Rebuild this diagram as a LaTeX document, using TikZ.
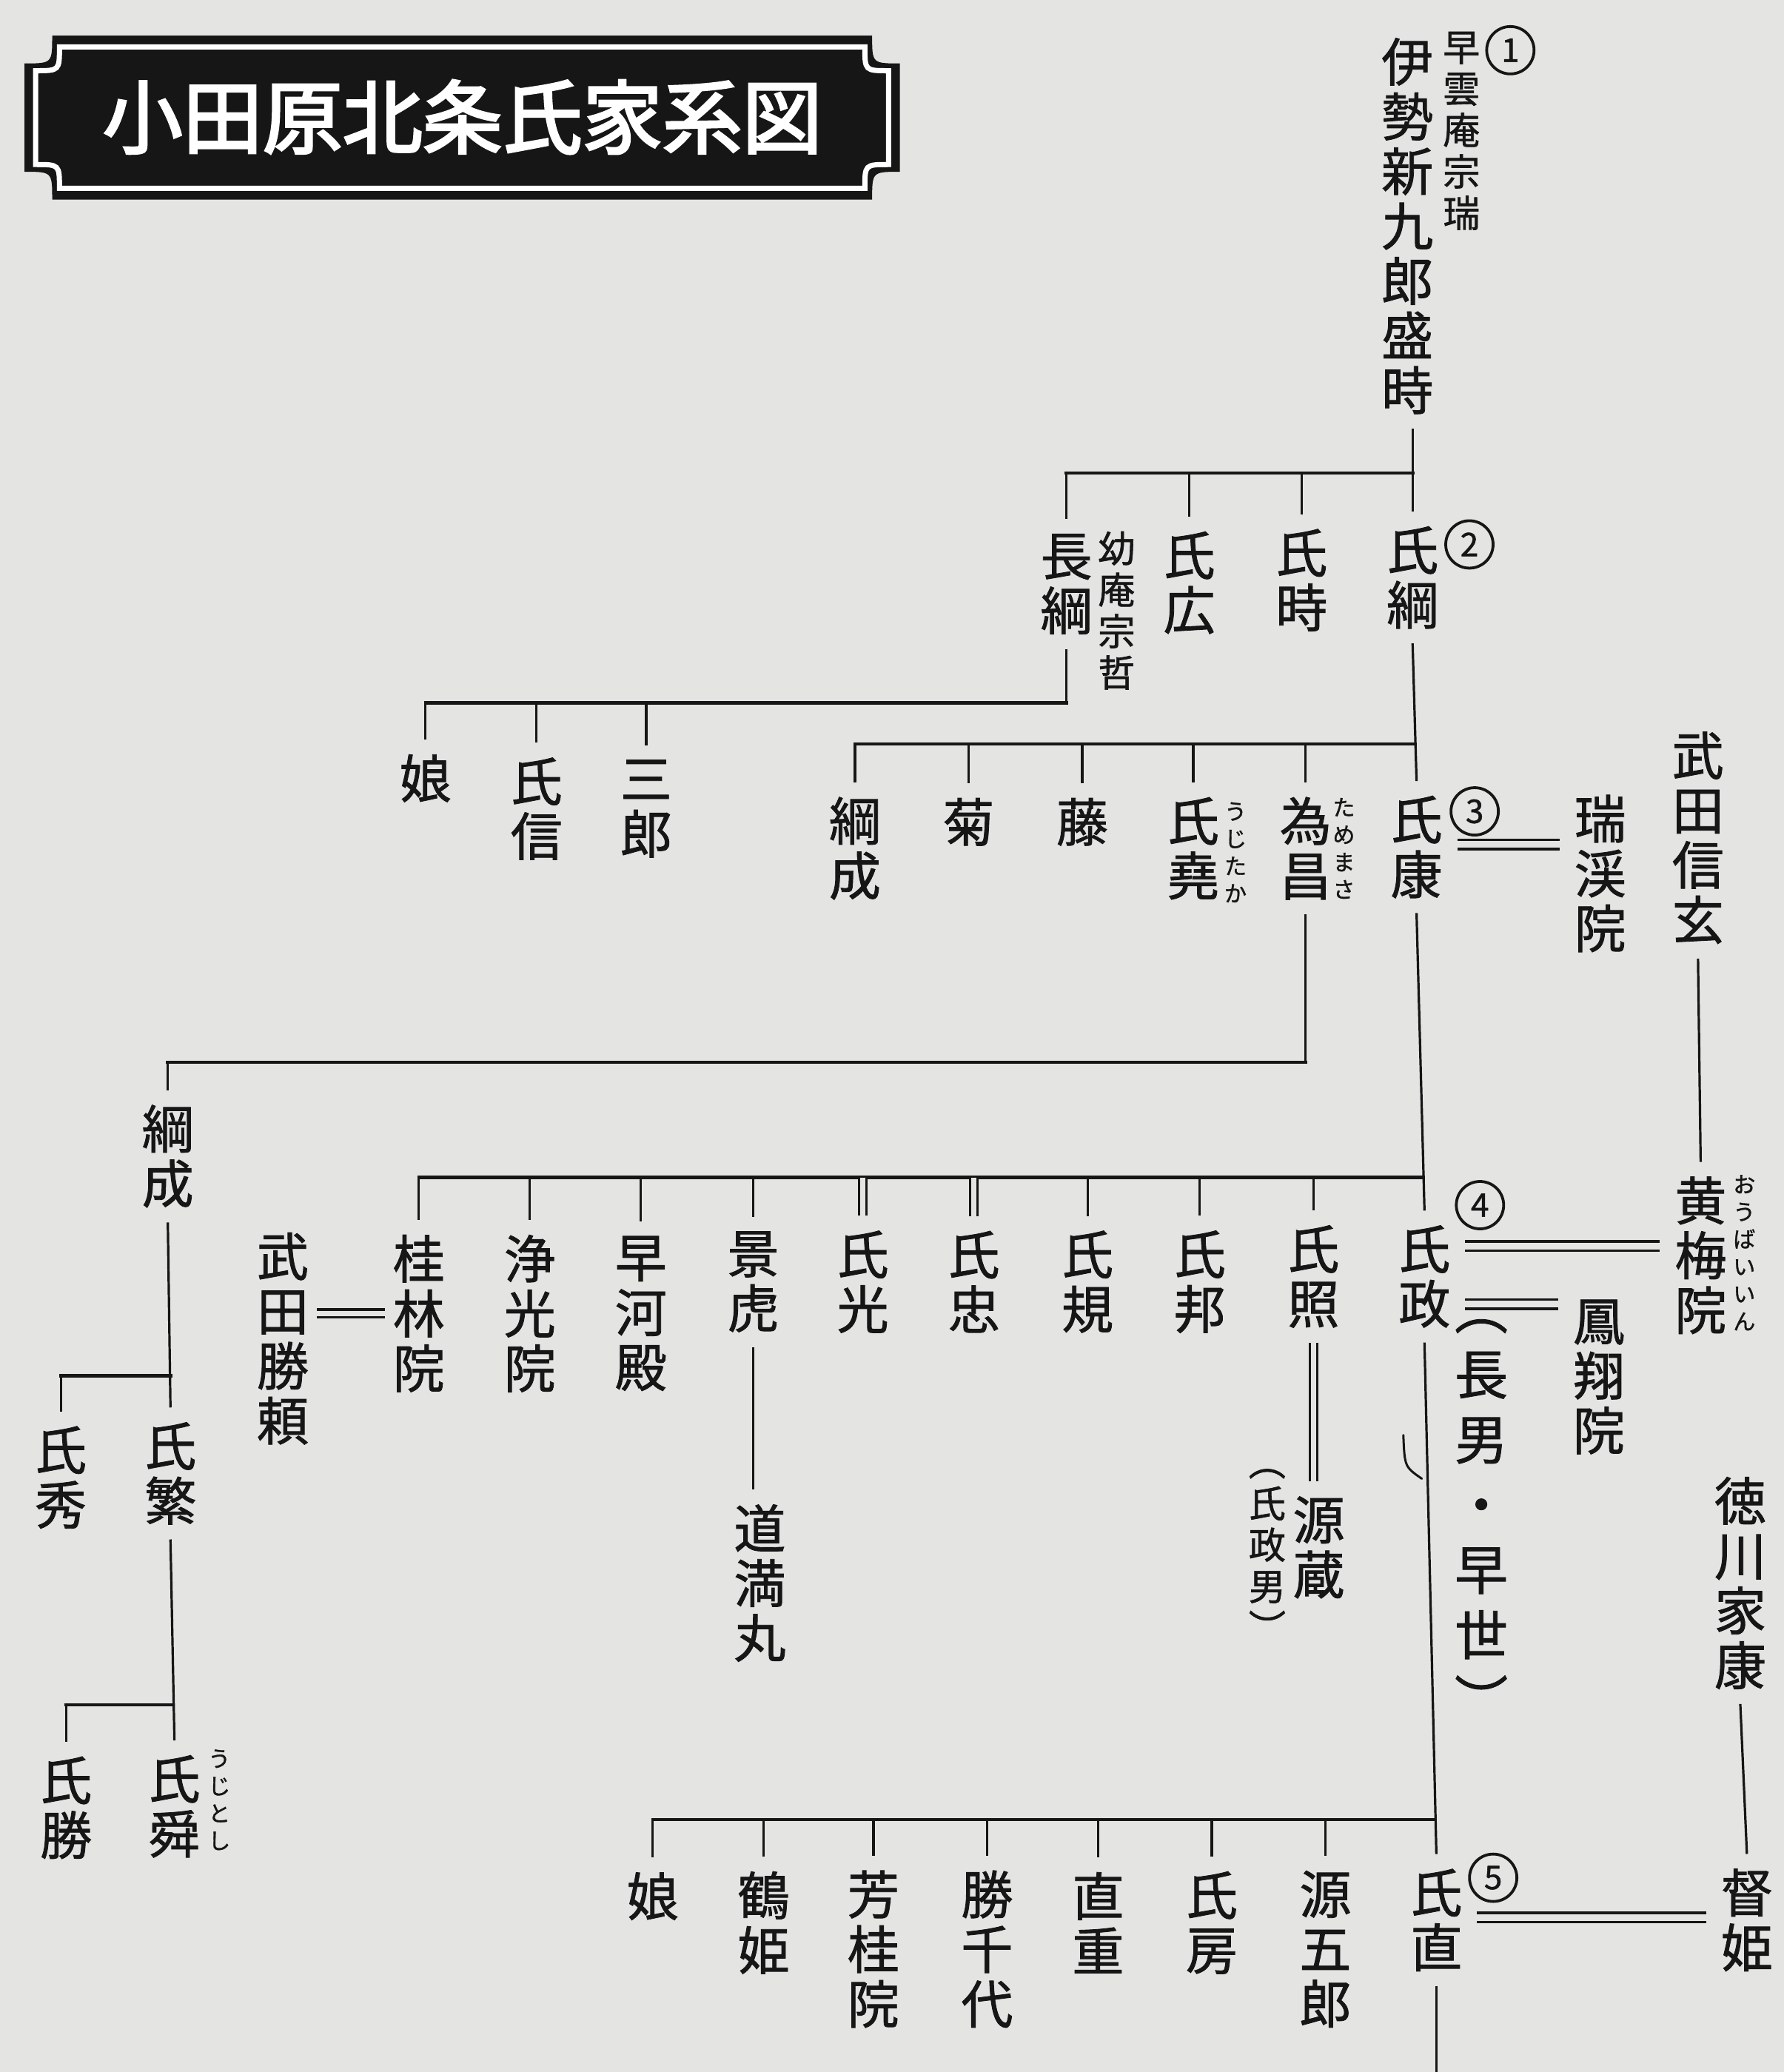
\documentclass[tikz,border=0pt]{standalone}
\usepackage{fontspec}
\newfontfamily\jp[FakeBold=1.2]{Noto Sans CJK JP}
\newfontfamily\jpb[FakeBold=3]{Noto Sans CJK JP}
\definecolor{paper}{RGB}{228,228,226}
\definecolor{ink}{RGB}{22,22,22}
\begin{document}
\begin{tikzpicture}[x=1.78519pt, y=-1.78519pt,
  nm/.style={font=\jp\fontsize{70}{74}\selectfont, align=center, inner sep=0pt, outer sep=20pt, text=ink},
  sm/.style={font=\jp\fontsize{50}{56}\selectfont, align=center, inner sep=0pt, text=ink},
  rb/.style={font=\jp\fontsize{30}{37}\selectfont, align=center, inner sep=0pt, text=ink},
  hw/.style={font=\jp\fontsize{72}{88}\selectfont, align=center, inner sep=0pt, text=ink},
  num/.style={circle, draw=ink, line width=3.8pt, minimum size=64pt, inner sep=0pt, font=\jp\fontsize{44}{44}\selectfont, text=ink},
  titletext/.style={font=\jpb\fontsize{108}{108}\selectfont, inner sep=0pt, text=white},
  ln/.style={draw=ink, line width=3.2pt},
  bar/.style={draw=ink, line width=4.5pt, line cap=rect},
  dbl/.style={draw=ink, line width=3.5pt, double=paper, double distance=9pt},
  vdbl/.style={draw=ink, line width=3pt, double=paper, double distance=7.5pt},
]
\fill[paper] (0,0) rectangle (1350,1568);
\useasboundingbox (0,0) rectangle (1350,1568);

% ---------- title plate ----------
\fill[ink] (39.5,27) -- (660,27) .. controls (660,48) .. (681,48) -- (681,130)
  .. controls (660,130) .. (660,151) -- (39.5,151) .. controls (39.5,130) .. (18.5,130)
  -- (18.5,48) .. controls (39.5,48) .. (39.5,27) -- cycle;
\draw[white, line width=7pt] (45,35.5) -- (654.5,35.5) .. controls (654.5,53.5) .. (672.5,53.5)
  -- (672.5,124.5) .. controls (654.5,124.5) .. (654.5,142.5) -- (45,142.5)
  .. controls (45,124.5) .. (27,124.5) -- (27,53.5) .. controls (45,53.5) .. (45,35.5) -- cycle;
\node[titletext] (title) at (350,88.5) {小田原北条氏家系図};

% ---------- generation 1 ----------
\node[nm] (ise) at (1065,171) {伊\\勢\\新\\九\\郎\\盛\\時};
\node[sm] (soun) at (1106,99) {早\\雲\\庵\\宗\\瑞};
\node[num] (c1) at (1143,38) {1};

% ---------- generation 2 ----------
\node[nm] (ujitsuna) at (1069,437) {氏\\綱};
\node[num] (c2) at (1112,412) {2};
\node[nm] (ujitoki) at (985,439) {氏\\時};
\node[nm] (ujihiro) at (900,441) {氏\\広};
\node[nm] (nagatsuna) at (807,442) {長\\綱};
\node[sm] (genan) at (845,462) {幼\\庵\\宗\\哲};

% children of Nagatsuna
\node[nm] (musume1) at (322,589) {娘};
\node[nm] (ujinobu) at (406,612) {氏\\信};
\node[nm] (saburo) at (489,612) {三\\郎};

% ---------- generation 3 ----------
\node[nm] (ujiyasu) at (1072,641) {氏\\康};
\node[num] (c3) at (1116,614) {3};
\node[nm] (tamemasa) at (988,642) {為\\昌};
\node[rb] (tamemasar) at (1017,642) {た\\め\\ま\\さ};
\node[nm] (ujitaka) at (903,642) {氏\\堯};
\node[rb] (ujitakar) at (935,645) {う\\じ\\た\\か};
\node[nm] (fuji) at (819,622) {藤};
\node[nm] (kiku) at (733,622) {菊};
\node[nm] (tsunashige) at (647,642) {綱\\成};
\node[nm] (zuikei) at (1211,661) {瑞\\渓\\院};
\node[nm] (shingen) at (1285,634) {武\\田\\信\\玄};

% Tsunashige branch
\node[nm] (tsunashigeL) at (127,875) {綱\\成};
\node[nm] (ujishige) at (129,1115) {氏\\繁};
\node[nm] (ujihide) at (46,1118) {氏\\秀};
\node[nm] (ujitoshi) at (132,1367) {氏\\舜};
\node[rb] (ujitoshir) at (166,1362) {う\\じ\\と\\し};
\node[nm] (ujikatsu) at (50,1368) {氏\\勝};

% ---------- generation 4 ----------
\node[nm] (ujimasa) at (1078,966) {氏\\政};
\node[num] (c4) at (1120,912) {4};
\node[nm] (ujiteru) at (994,966) {氏\\照};
\node[nm] (ujikuni) at (908,970) {氏\\邦};
\node[nm] (ujinori) at (823,970) {氏\\規};
\node[nm] (ujitada) at (737,970) {氏\\忠};
\node[nm] (ujimitsu) at (653,970) {氏\\光};
\node[nm] (kagetora) at (570,970) {景\\虎};
\node[nm] (hayakawa) at (485,994) {早\\河\\殿};
\node[nm] (joko) at (401,994) {浄\\光\\院};
\node[nm] (keirin) at (317,994) {桂\\林\\院};
\node[nm] (katsuyori) at (214,1013) {武\\田\\勝\\頼};
\node[nm] (obai) at (1287,950) {黄\\梅\\院};
\node[rb] (obair) at (1320,948) {お\\う\\ば\\い\\い\\ん};
\node[nm] (hosho) at (1210,1042) {鳳\\翔\\院};
\node[nm] (domanmaru) at (575,1198) {道\\満\\丸};
\node[nm] (genzo) at (998,1171) {源\\蔵};
\node[sm] (genzonote) at (959,1177) {︵\\氏\\政\\男\\︶};
\node[hw] (hwnote) at (1121,1150) {︵\\長\\男\\・\\早\\世\\︶};
\node[nm] (ieyasu) at (1317,1198) {徳\\川\\家\\康};

% ---------- generation 5 ----------
\node[nm] (ujinao) at (1087,1453) {氏\\直};
\node[num] (c5) at (1130,1421) {5};
\node[nm] (gengoro) at (1003,1475) {源\\五\\郎};
\node[nm] (ujifusa) at (917,1455) {氏\\房};
\node[nm] (naoshige) at (831,1455) {直\\重};
\node[nm] (katsuchiyo) at (747,1475) {勝\\千\\代};
\node[nm] (hokei) at (661,1475) {芳\\桂\\院};
\node[nm] (tsuruhime) at (578,1455) {鶴\\姫};
\node[nm] (musume2) at (494,1435) {娘};
\node[nm] (tokuhime) at (1322,1453) {督\\姫};

% ---------- connectors ----------
\coordinate (b2) at (1069,358);
\draw[ln] (ise.south -| b2) -- (ujitsuna.north);
\draw[bar] (b2 -| nagatsuna) -- (b2);
\foreach \n in {nagatsuna,ujihiro,ujitoki} \draw[ln] (b2 -| \n) -- (\n.north);

\coordinate (b3a) at (807,532);
\draw[ln] (nagatsuna.south) -- (nagatsuna.south |- b3a);
\draw[bar] (nagatsuna.south |- b3a) -- (b3a -| musume1);
\foreach \n in {musume1,ujinobu,saburo} \draw[ln] (b3a -| \n) -- (\n.north);

\coordinate (b3) at (1071,563);
\draw[ln] (ujitsuna.south) -- (ujiyasu.north);
\draw[bar] (b3 -| tsunashige) -- (b3);
\foreach \n in {tsunashige,kiku,fuji,ujitaka,tamemasa} \draw[ln] (b3 -| \n) -- (\n.north);

\coordinate (b6) at (987,804);
\draw[ln] (tamemasa.south) -- (tamemasa.south |- b6);
\draw[bar] (tamemasa.south |- b6) -- (b6 -| tsunashigeL);
\draw[ln] (b6 -| tsunashigeL) -- (tsunashigeL.north);

\draw[ln] (tsunashigeL.south) -- (ujishige.north);
\coordinate (b7) at (129,1041);
\draw[bar] (b7) -- (b7 -| ujihide);
\draw[ln] (b7 -| ujihide) -- (ujihide.north);
\draw[ln] (ujishige.south) -- (ujitoshi.north);
\coordinate (b8) at (131,1290);
\draw[bar] (b8) -- (b8 -| ujikatsu);
\draw[ln] (b8 -| ujikatsu) -- (ujikatsu.north);

\draw[ln] (ujiyasu.south) -- (ujimasa.north);
\coordinate (b4) at (1077,891);
\draw[bar] (b4 -| keirin) -- (b4);
\foreach \n in {keirin,joko,hayakawa,kagetora,ujinori,ujikuni,ujiteru} \draw[ln] (b4 -| \n) -- (\n.north);
\foreach \n in {ujimitsu,ujitada} \draw[vdbl] (b4 -| \n) -- (\n.north);
\draw[ln] (kagetora.south) -- (kagetora.south |- domanmaru.north);
\draw[vdbl] (ujiteru.south) -- (ujiteru.south |- genzo.north);

\draw[ln] (shingen.south) -- (obai.north);
\draw[ln] (ieyasu.south) -- (tokuhime.north);

\coordinate (d3) at (0,639);
\draw[dbl] (ujiyasu.east |- d3) -- (zuikei.west |- d3);
\coordinate (d4a) at (0,943);
\draw[dbl] (ujimasa.east |- d4a) -- (obai.west |- d4a);
\coordinate (d4b) at (0,987);
\draw[dbl] (ujimasa.east |- d4b) -- (hosho.west |- d4b);
\coordinate (dk) at (0,994);
\draw[dbl, double distance=7pt, shorten <=-9pt, shorten >=-9pt] (katsuyori.east |- dk) -- (keirin.west |- dk);
\coordinate (d5) at (0,1451);
\draw[dbl] (ujinao.east |- d5) -- (tokuhime.west |- d5);

\draw[ln] (ujimasa.south) -- (ujinao.north);
\coordinate (b5) at (1085,1377);
\draw[bar] (b5 -| musume2) -- (b5);
\foreach \n in {musume2,tsuruhime,hokei,katsuchiyo,naoshige,ujifusa,gengoro} \draw[ln] (b5 -| \n) -- (\n.north);
\coordinate (bottomend) at (1087,1568);
\draw[ln] (ujinao.south) -- (ujinao.south |- bottomend);

% small handwritten tick beside the line
\draw[ink, line width=3pt, line cap=round] (1062,1086) .. controls (1063,1110) .. (1076,1119);
\end{tikzpicture}
\end{document}
